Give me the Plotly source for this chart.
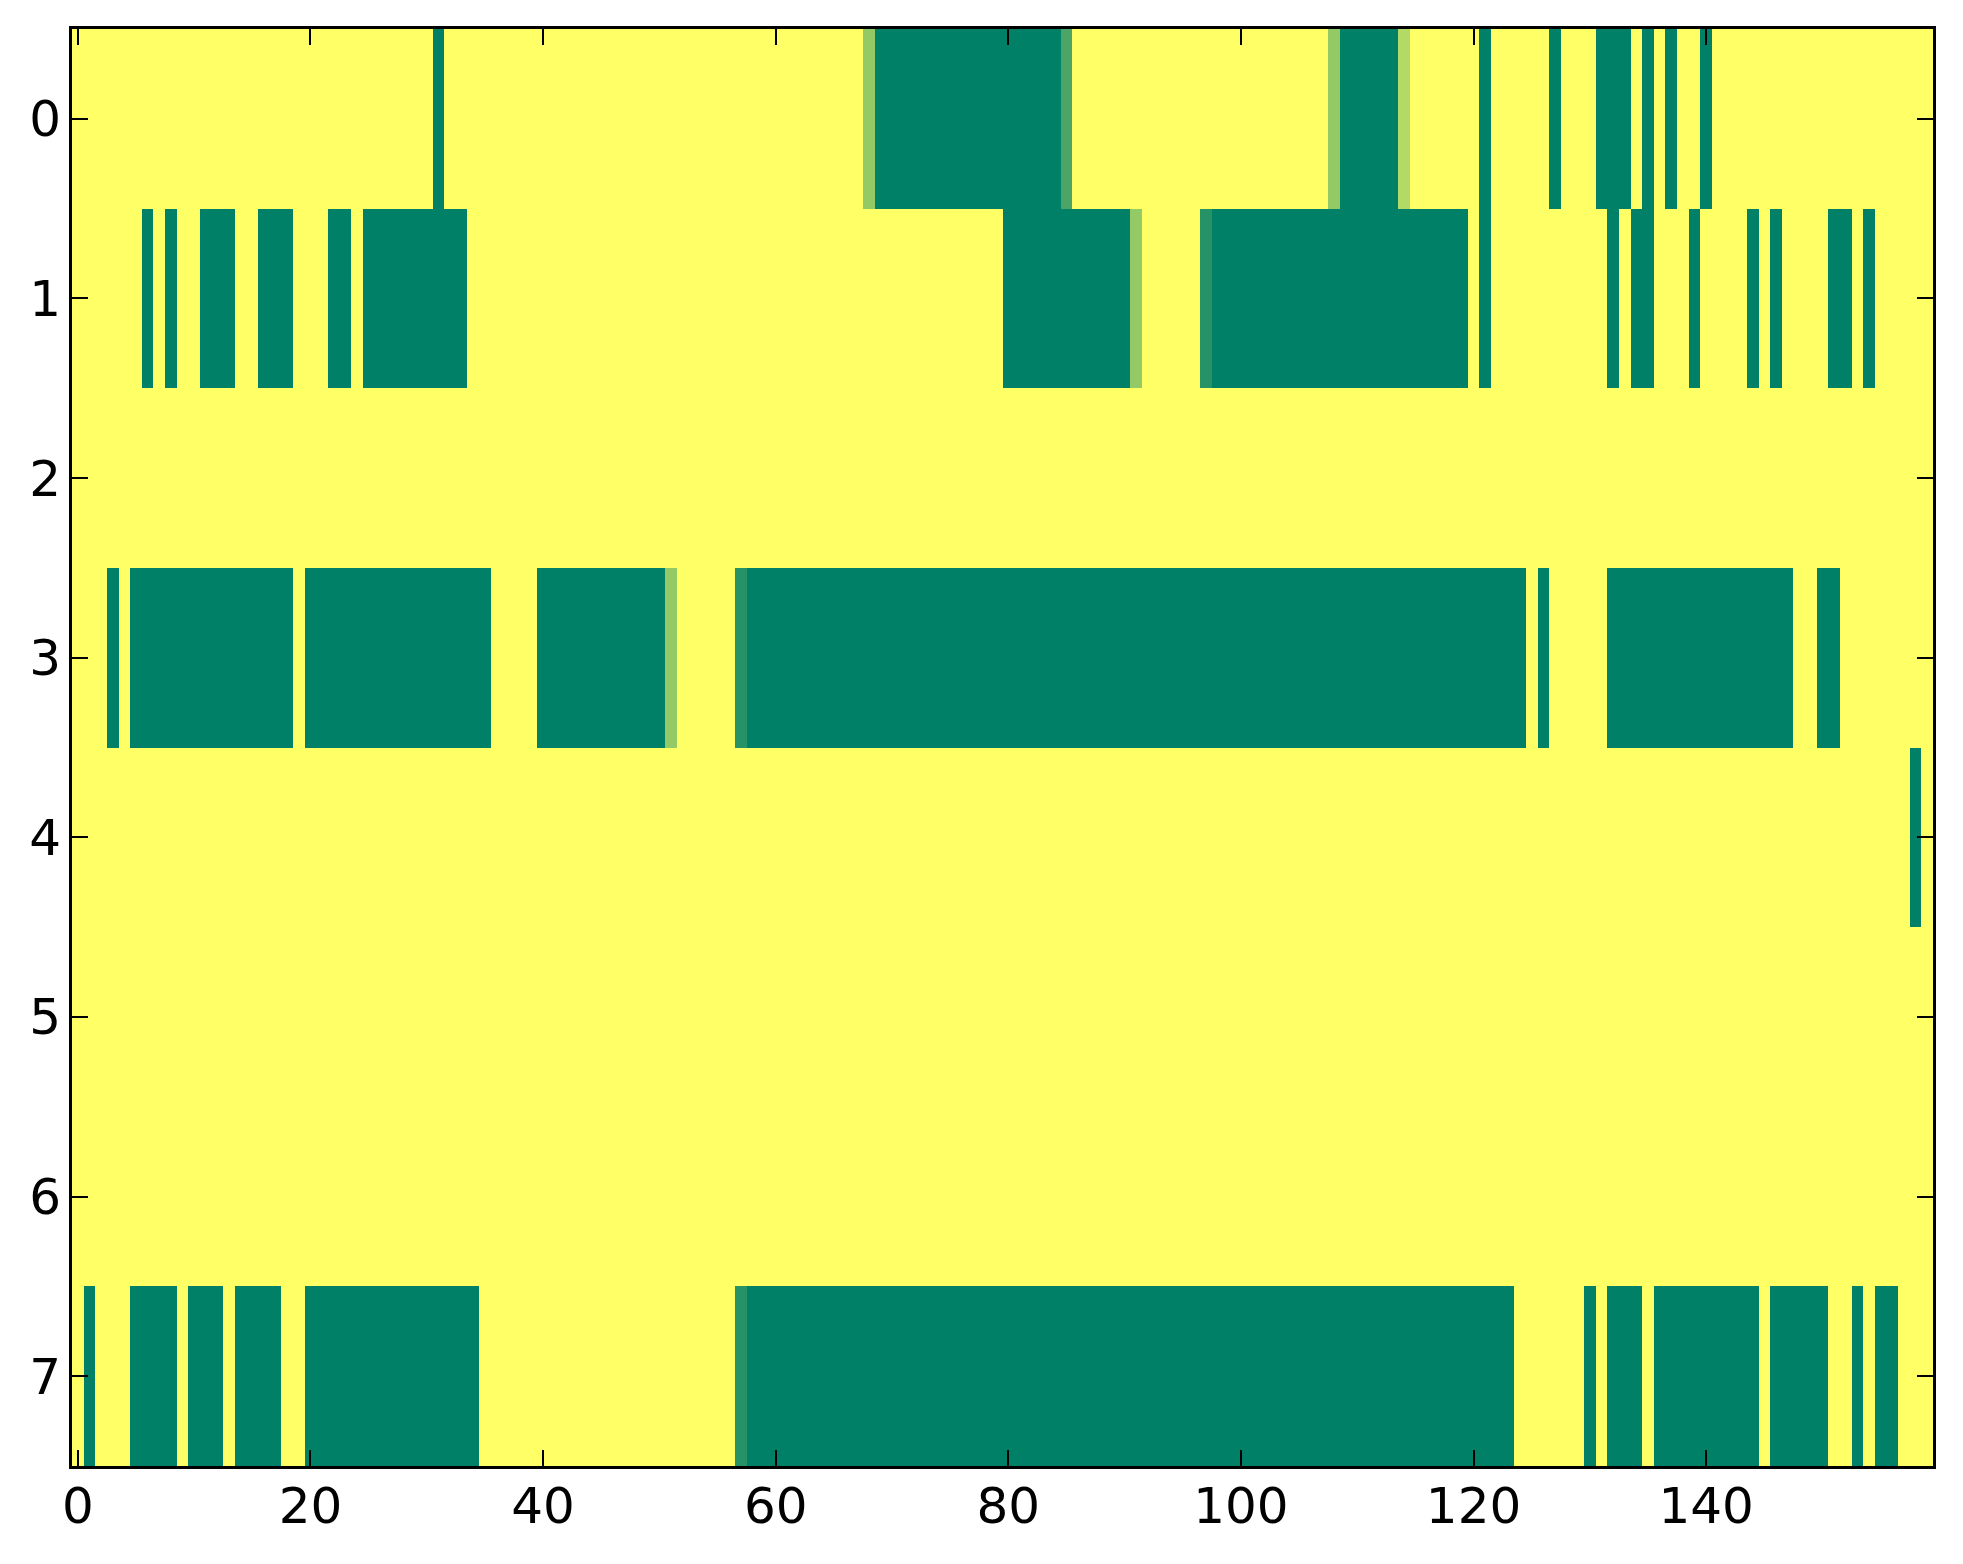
import numpy as np
import plotly.graph_objs as go

N_ROWS = 8
N_COLS = 160

# columns drawn at the low end of the scale (dark green), per row, as inclusive spans
row0_low = [(31, 31), (69, 84), (109, 113), (121, 121), (127, 127),
            (131, 133), (135, 135), (137, 137), (140, 140)]
row1_low = [(6, 6), (8, 8), (11, 13), (16, 18), (22, 23), (25, 33), (80, 90),
            (98, 119), (121, 121), (132, 132), (134, 135), (139, 139),
            (144, 144), (146, 146), (151, 152), (154, 154)]
row2_low = []
row3_low = [(3, 3), (5, 18), (20, 35), (40, 50), (58, 124), (126, 126),
            (132, 147), (150, 151)]
row4_low = [(158, 158)]
row5_low = []
row6_low = []
row7_low = [(1, 1), (5, 8), (10, 12), (14, 17), (20, 34), (58, 123),
            (130, 130), (132, 134), (136, 144), (146, 150), (153, 153),
            (155, 156)]

# in-between cells: (row, column, value)
partial_cells = [(0, 68, 0.58), (0, 85, 0.29), (0, 108, 0.58), (0, 114, 0.70),
                 (1, 91, 0.58), (1, 97, 0.15),
                 (3, 51, 0.58), (3, 57, 0.15),
                 (7, 57, 0.15)]

x_ticks = [0, 20, 40, 60, 80, 100, 120, 140]
y_ticks = [0, 1, 2, 3, 4, 5, 6, 7]


def build_grid():
    rows = [row0_low, row1_low, row2_low, row3_low,
            row4_low, row5_low, row6_low, row7_low]
    z = np.ones((N_ROWS, N_COLS))
    for r, spans in enumerate(rows):
        for a, b in spans:
            z[r, a:b + 1] = 0.0
    for r, c, v in partial_cells:
        z[r, c] = v
    return z


def main():
    z = build_grid()

    # matplotlib "summer": green (0, .5, .4) -> yellow (1, 1, .4)
    summer = [[0.0, 'rgb(0,128,102)'], [1.0, 'rgb(255,255,102)']]

    trace = go.Heatmap(z=z, x=list(range(N_COLS)), y=list(range(N_ROWS)),
                       colorscale=summer, zmin=0, zmax=1, showscale=False,
                       zsmooth=False, hoverinfo='skip')

    axis_common = dict(ticks='inside', ticklen=16, tickwidth=2, tickcolor='black',
                       showline=True, linewidth=3, linecolor='black', mirror='ticks',
                       showgrid=False, zeroline=False,
                       tickfont=dict(family='DejaVu Sans', size=50, color='black'))

    # page body adds 8px around the plot, so the figure is a bit smaller than the window
    layout = go.Layout(
        width=1955, height=1556,
        margin=dict(l=64, r=30, t=21, b=98),
        paper_bgcolor='white', plot_bgcolor='white',
        xaxis=dict(range=[-0.5, N_COLS - 0.5], tickvals=x_ticks,
                   ticklabelstandoff=-6, **axis_common),
        yaxis=dict(range=[N_ROWS - 0.5, -0.5], tickvals=y_ticks,
                   ticklabelstandoff=-2, **axis_common),
        showlegend=False,
    )

    fig = go.Figure(data=[trace], layout=layout)
    fig.write_html('out.html')


if __name__ == '__main__':
    main()
